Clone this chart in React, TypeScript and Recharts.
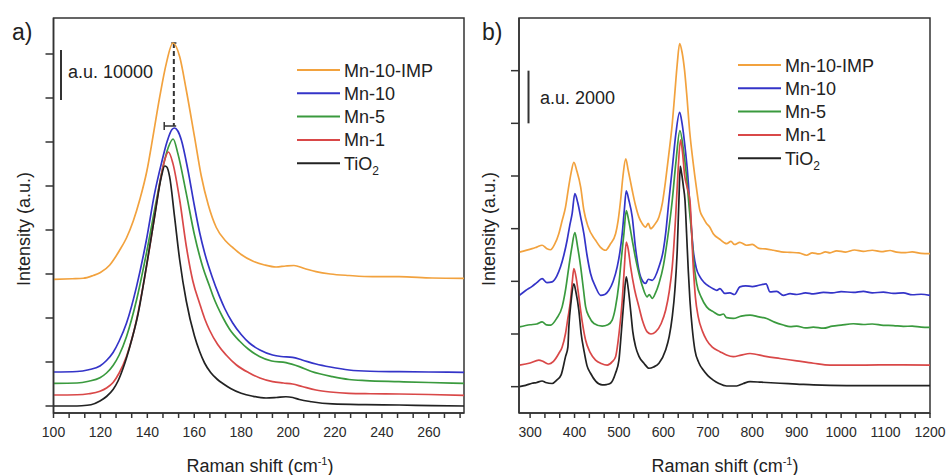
import React from 'react';
import { LineChart, Line, XAxis, YAxis, ReferenceLine, ReferenceArea } from 'recharts';

// ---- panel a) low-frequency Eg band, [Raman shift, intensity]
const aTiO2: [number, number][] = [
  [100, 0], [108, 0], [112, 50], [116, 250], [119.8, 1000], [122.6, 1900], [125.4, 3300], [127.5, 5000],
  [129.7, 7600], [132.8, 12300], [136, 18300], [139.6, 27870], [143.1, 37870], [146, 45870], [147.4, 48000],
  [148.3, 47800], [149.5, 45870], [151.6, 37870], [153.8, 29200], [156.6, 21000], [160.1, 14000], [162.3, 10900],
  [164.4, 8600], [167, 6700], [169.9, 5300], [172.5, 4400], [175.5, 3500], [180, 2550], [185, 1950], [190.6, 1600],
  [195, 1700], [199.1, 1850], [202, 1700], [204.8, 1300], [210, 850], [218.9, 420], [233.1, 270], [247.3, 200],
  [261.4, 70], [275, 0],
];
const aMn1: [number, number][] = [
  [100, 2200], [110, 2250], [115, 2450], [119.8, 2950], [122.6, 3600], [125.4, 4700], [128, 6600], [131.1, 9900],
  [135.4, 17200], [138.9, 25870], [142.4, 35870], [145.3, 44530], [147.4, 49200], [149, 50800], [150.9, 48530],
  [153.8, 41200], [156.6, 32000], [159.4, 25000], [162.3, 20500], [164.5, 17400], [166.5, 15200], [170, 12300],
  [173.6, 10200], [178, 8200], [183.5, 6600], [188, 5600], [193.4, 4870], [198, 4600], [201.9, 4400], [206, 3900],
  [211.9, 3200], [218, 2800], [226, 2530], [235, 2450], [247.3, 2400], [260, 2300], [275, 2130],
];
const aMn5: [number, number][] = [
  [100, 4530], [110, 4600], [115, 4950], [119.8, 5650], [122.6, 6600], [125.4, 8100], [128, 10200], [131.1, 13870],
  [135.4, 21200], [139.6, 30530], [143.9, 41200], [146.7, 47870], [149, 51800], [151, 53400], [153, 50530],
  [156.6, 42530], [160.1, 34200], [162.3, 30000], [163.7, 27700], [166.5, 24000], [168, 22000], [172.2, 17700],
  [175, 15400], [179.3, 13000], [183, 11400], [187.8, 9900], [193, 9000], [199.1, 8670], [204.8, 7870], [210, 6900],
  [218.9, 5870], [226, 5300], [233.1, 5070], [247.3, 4870], [260, 4700], [275, 4530],
];
const aMn10: [number, number][] = [
  [100, 6800], [110, 6900], [115, 7250], [119.8, 8000], [122.6, 9100], [125.4, 10700], [128, 13000], [131.1, 16530],
  [135.4, 23870], [139.6, 33200], [143.1, 42530], [146, 48530], [148.5, 53000], [150.5, 55300], [151.6, 55600],
  [153, 55000], [154.5, 53200], [157.3, 47200], [160, 40200], [162.3, 34700], [164.5, 30500], [167.5, 26000],
  [170.8, 21870], [173, 19500], [176.4, 16600], [180, 14300], [183.5, 12600], [188, 11200], [193.4, 10200],
  [197, 9900], [201.9, 9730], [206, 9200], [211.9, 8400], [218, 7800], [226, 7200], [235, 6950], [247.3, 6870],
  [260, 6800], [275, 6730],
];
const aImp: [number, number][] = [
  [100, 25330], [108, 25450], [112.7, 25550], [116.9, 26100], [120, 26700], [124, 28200], [126, 29500],
  [128, 31000], [131.1, 33600], [134, 37000], [136.8, 41300], [139.8, 47000], [142.4, 53870], [145.3, 61870],
  [148.1, 68530], [150.9, 72600], [153.8, 69870], [156.6, 63200], [160.1, 53870], [163, 46000], [166, 40200],
  [169.4, 35700], [173.6, 32900], [176.4, 31700], [180, 30300], [184.9, 29000], [190, 28200], [194.9, 27800],
  [199, 28000], [202.5, 28100], [207, 27500], [211.9, 26870], [218, 26400], [226, 26100], [235.9, 25870],
  [247.3, 25870], [261.4, 25600], [275, 25530],
];

// ---- panel b) full spectrum
const bTiO2: [number, number][] = [
  [276, 0], [290, 50], [304.5, 130], [313.5, 150], [327, 215], [335, 160], [349.6, 120], [360, 250], [369.8, 450],
  [379.7, 1140], [385, 1500], [387.2, 2270], [392, 3200], [398.5, 3900], [403, 3600], [409.7, 2900], [415, 2000],
  [421, 1390], [428, 800], [436, 510], [448, 200], [462.2, 65], [472, 80], [481, 130], [492, 500], [499.9, 1010],
  [505, 2000], [511.1, 3280], [516.4, 4170], [521, 3700], [526.2, 2900], [531, 2100], [537.4, 1520], [545, 1150],
  [556.2, 890], [567.5, 700], [578, 750], [590, 890], [605, 1390], [613, 1900], [619.9, 2650], [626, 3700],
  [631.1, 5180], [634.9, 7070], [637.9, 8370], [641, 8100], [645, 7600], [648.6, 7070], [652.2, 5810], [656, 4400],
  [659.7, 3280], [665, 2200], [670.9, 1390], [680, 900], [689.7, 630], [700, 420], [712.2, 250], [725, 120],
  [742.3, 25], [764.9, 25], [780, 120], [794.9, 190], [820, 170], [862.4, 130], [900, 100], [937.5, 65],
  [1012.7, 40], [1100, 40], [1200, 40],
];
const bMn1: [number, number][] = [
  [276, 820], [300, 900], [319.6, 1010], [330, 950], [342, 860], [352, 950], [364.6, 1260], [372, 1500],
  [379.7, 2020], [385, 2600], [391, 3280], [395, 4000], [398.5, 4480], [403, 4200], [409.7, 3410], [417, 2500],
  [424.8, 1770], [435, 1300], [447.3, 1010], [460, 880], [473.5, 820], [485, 950], [492.4, 1140], [500, 2000],
  [507.4, 3280], [512, 4500], [516.4, 5490], [521, 5200], [526.2, 4550], [535, 3700], [544.9, 3030], [553, 2500],
  [563.5, 2080], [572, 2000], [582.4, 2080], [595, 2400], [605, 2900], [613, 3600], [619.9, 4550], [627.5, 6440],
  [633, 8200], [638.5, 9370], [643, 8900], [648, 8000], [653, 7600], [659.7, 7070], [667.2, 4550], [672, 3400],
  [678.4, 2650], [688, 2100], [697.3, 1770], [710, 1500], [727.3, 1330], [742, 1200], [757.3, 1140], [775, 1200],
  [794.9, 1260], [830, 1150], [862.4, 1070], [900, 980], [937.5, 890], [975, 820], [1050, 820], [1120, 830],
  [1200, 820],
];
const bMn5: [number, number][] = [
  [276, 2270], [300, 2350], [315, 2380], [327, 2460], [337, 2350], [346, 2340], [360, 2600], [372.1, 3030],
  [380, 3700], [387.2, 4550], [394, 5300], [400.7, 5850], [407, 5300], [413.8, 4550], [420, 3700], [425, 3030],
  [433, 2650], [443.7, 2400], [462.2, 2300], [475, 2350], [484.7, 2530], [492, 3000], [499.9, 3920], [505, 4800],
  [511.1, 5810], [516.4, 6690], [522, 6300], [529.9, 5560], [537, 4900], [544.9, 4300], [553, 3800], [563.5, 3410],
  [568, 3500], [574.8, 3350], [582, 3550], [590, 3920], [600, 4600], [608.8, 5560], [619.9, 7070], [628, 8500],
  [637.2, 9720], [645, 9000], [652, 8000], [658, 6800], [663.6, 5810], [668, 4800], [674.8, 3920], [685, 3400],
  [697.3, 3030], [712, 2850], [727.3, 2720], [735, 2760], [742, 2620], [757.3, 2590], [775, 2680], [794.9, 2720],
  [815, 2650], [832.4, 2590], [850, 2450], [869.9, 2340], [885, 2280], [900, 2300], [920, 2230], [937.5, 2260],
  [960, 2220], [980, 2300], [1000, 2340], [1027.6, 2390], [1050, 2360], [1070, 2380], [1095, 2330], [1117.7, 2320],
  [1140, 2290], [1160, 2300], [1180, 2260], [1200, 2250],
];
const bMn10: [number, number][] = [
  [276, 3470], [290, 3650], [304.5, 3810], [315, 3950], [327, 4100], [338, 3950], [349.6, 3980], [360, 4200],
  [368.5, 4550], [376, 5000], [383.3, 5560], [389, 6100], [394.6, 6570], [400.7, 7330], [407, 7000], [413.8, 6440],
  [421, 5810], [428, 5000], [436, 4300], [447, 3800], [458.6, 3470], [468, 3500], [477.3, 3660], [487, 4000],
  [496, 4550], [502, 5100], [507.3, 5810], [512, 6700], [516.4, 7440], [522, 7100], [529.9, 6440], [537, 5300],
  [548.7, 4170], [560, 3920], [566, 4080], [574.8, 4040], [590, 4550], [600, 5200], [605, 5810], [612.4, 7070],
  [620, 8300], [628, 9600], [636.5, 10420], [642, 10000], [648, 9200], [655, 8000], [661, 6500], [667.2, 5180],
  [674, 4500], [682.3, 4170], [692, 3950], [704.8, 3790], [712, 3720], [720, 3660], [727.3, 3720], [738, 3540],
  [749.8, 3560], [760, 3500], [772, 3790], [785, 3830], [800, 3800], [815, 3850], [831, 3900], [840, 3600],
  [855, 3620], [869.9, 3470], [885, 3530], [900, 3500], [920, 3560], [937.5, 3520], [960, 3580], [980, 3560],
  [1000, 3610], [1027.6, 3580], [1050, 3620], [1070, 3560], [1095, 3590], [1117.7, 3540], [1140, 3560],
  [1160, 3490], [1180, 3510], [1200, 3470],
];
const bImp: [number, number][] = [
  [276, 5110], [304.5, 5240], [315, 5300], [327, 5370], [337, 5250], [346, 5200], [355, 5400], [364.6, 5810],
  [372, 6300], [379.7, 6820], [386, 7500], [392, 8100], [398.5, 8520], [405, 8200], [413.8, 7580], [421, 6700],
  [430, 6100], [447.3, 5560], [458, 5300], [469.8, 5180], [480, 5400], [492.4, 5810], [498, 6300], [503.6, 7070],
  [509, 8000], [515.2, 8650], [521, 8200], [529.9, 7450], [537, 6900], [544.9, 6440], [552, 6200], [560, 6060],
  [566, 6200], [571.2, 6000], [580, 6150], [590, 6440], [598, 7000], [605, 7830], [612, 8800], [619.9, 9980],
  [625, 11000], [631.1, 12250], [636.5, 13030], [642, 12700], [647.7, 12000], [653, 11000], [659, 9720],
  [667, 8500], [674.1, 7580], [682, 6700], [690, 6400], [697, 6200], [704.1, 6060], [712.2, 5810], [727, 5600],
  [742.3, 5430], [752, 5520], [760, 5400], [772, 5480], [787.3, 5370], [800, 5400], [815, 5250], [830, 5230],
  [847.4, 5180], [865, 5120], [885, 5100], [905, 5080], [922.4, 4990], [935, 5080], [950, 5040], [965, 5120],
  [975, 5080], [990, 5160], [1010, 5110], [1030, 5190], [1050, 5140], [1070, 5180], [1090, 5130], [1110, 5170],
  [1125, 5110], [1145, 5090], [1160, 5120], [1180, 5060], [1200, 5050],
];

const seriesNames = ['Mn-10-IMP', 'Mn-10', 'Mn-5', 'Mn-1', 'TiO2'];
const colors = ['#F2A23E', '#3434C8', '#3A9A3E', '#D94848', '#222222'];

// axis ticks (labelled majors + two minors between)
const aMajor = [100, 120, 140, 160, 180, 200, 220, 240, 260];
const bMajor = [300, 400, 500, 600, 700, 800, 900, 1000, 1100, 1200];
const aXTicks = aMajor.flatMap((v) => [v, v + 20 / 3, v + 40 / 3]).filter((v) => v <= 275);
const bXTicks = bMajor.flatMap((v) => [v, v + 100 / 3, v + 200 / 3]).filter((v) => v <= 1200);
const aYTicks = [0, 8800, 17600, 26400, 35200, 44000, 52800, 61600, 70400];
const bYTicks = [0, 2000, 4000, 6000, 8000, 10000, 12000];

const FONT = '"Liberation Sans", Arial, sans-serif';
const AXIS = '#333';

const pts = (arr: [number, number][]) => arr.map(([x, y]) => ({ x, y }));
const isMajor = (list: number[]) => (v: number) => (list.some((m) => Math.abs(m - v) < 0.01) ? String(v) : '');

function Panel({ series, xDomain, yDomain, xTicks, yTicks, major, width, margin, yWidth, children }: any) {
  return (
    <LineChart width={width} height={475} margin={margin}>
      <XAxis
        type="number"
        dataKey="x"
        domain={xDomain}
        ticks={xTicks}
        allowDataOverflow
        interval={0}
        height={62}
        stroke={AXIS}
        strokeWidth={1.5}
        tickSize={5}
        tickMargin={9}
        tickFormatter={isMajor(major)}
        tick={{ fill: '#2a2a2a', fontSize: 14, fontFamily: FONT }}
      />
      <YAxis
        type="number"
        domain={yDomain}
        ticks={yTicks}
        allowDataOverflow
        interval={0}
        width={yWidth}
        stroke={AXIS}
        strokeWidth={1.5}
        tickSize={8}
        tickFormatter={() => ''}
      />
      <ReferenceArea
        x1={xDomain[0]}
        x2={xDomain[1]}
        y1={yDomain[0]}
        y2={yDomain[1]}
        fill="none"
        stroke={AXIS}
        strokeWidth={1.5}
        fillOpacity={0}
      />
      {children}
      {series.map((s: [number, number][], i: number) => (
        <Line
          key={seriesNames[i]}
          data={pts(s)}
          dataKey="y"
          type="monotone"
          stroke={colors[i]}
          strokeWidth={1.7}
          dot={false}
          isAnimationActive={false}
        />
      ))}
    </LineChart>
  );
}

function Legend({ x, y, step }: { x: number; y: number; step: number }) {
  return (
    <g>
      {seriesNames.map((n, i) => (
        <g key={n}>
          <line x1={x} x2={x + 43} y1={y + i * step} y2={y + i * step} stroke={colors[i]} strokeWidth={2} />
          <text x={x + 47} y={y + i * step + 6.5} fontSize={18} fill="#222" fontFamily={FONT}>
            {n === 'TiO2' ? (
              <>
                TiO<tspan fontSize={12} dy={5}>2</tspan>
              </>
            ) : (
              n
            )}
          </text>
        </g>
      ))}
    </g>
  );
}

const AxisTitles = ({ cx, yx }: { cx: number; yx: number }) => (
  <g fontFamily={FONT} fill="#222">
    <text x={cx} y={472} fontSize={18} textAnchor="middle">
      Raman shift (cm<tspan fontSize={11} dy={-7}>-1</tspan>
      <tspan dy={7}>)</tspan>
    </text>
    <text x={yx} y={229} fontSize={18} textAnchor="middle" transform={`rotate(-90 ${yx} 229)`} dy={6}>
      Intensity (a.u.)
    </text>
  </g>
);

export default function App() {
  return (
    <div style={{ position: 'fixed', left: 0, top: 0, width: 946, height: 475, background: '#fff' }}>
      <div style={{ position: 'absolute', left: 0, top: 0 }}>
        <Panel
          series={[aImp, aMn10, aMn5, aMn1, aTiO2]}
          xDomain={[100, 275]}
          yDomain={[-1400, 77600]}
          xTicks={aXTicks}
          yTicks={aYTicks}
          major={aMajor}
          width={473}
          yWidth={53.5}
          margin={{ top: 18, right: 9, bottom: 0, left: 0 }}
        >
          <ReferenceLine segment={[{ x: 103.2, y: 61200 }, { x: 103.2, y: 71200 }]} stroke={AXIS} strokeWidth={2} />
          <ReferenceLine segment={[{ x: 151.3, y: 72600 }, { x: 151.3, y: 56000 }]} stroke={AXIS} strokeWidth={2} strokeDasharray="5 3" />
          <ReferenceLine segment={[{ x: 150.2, y: 72600 }, { x: 152.4, y: 72600 }]} stroke={AXIS} strokeWidth={1.5} />
          <ReferenceLine segment={[{ x: 147.2, y: 56000 }, { x: 152.3, y: 56000 }]} stroke={AXIS} strokeWidth={1.5} />
          <ReferenceLine segment={[{ x: 147.2, y: 55200 }, { x: 147.2, y: 56800 }]} stroke={AXIS} strokeWidth={1.5} />
        </Panel>
      </div>
      <div style={{ position: 'absolute', left: 473, top: 0 }}>
        <Panel
          series={[bImp, bMn10, bMn5, bMn1, bTiO2]}
          xDomain={[275, 1200]}
          yDomain={[-1000, 14000]}
          xTicks={bXTicks}
          yTicks={bYTicks}
          major={bMajor}
          width={473}
          yWidth={46}
          margin={{ top: 18, right: 16, bottom: 0, left: 0 }}
        >
          <ReferenceLine segment={[{ x: 296.4, y: 10000 }, { x: 296.4, y: 12000 }]} stroke={AXIS} strokeWidth={2} />
        </Panel>
      </div>
      <svg width={946} height={475} style={{ position: 'absolute', left: 0, top: 0, pointerEvents: 'none' }}>
        <g fontFamily={FONT} fill="#222">
          <text x={12} y={40} fontSize={23}>a)</text>
          <text x={482} y={40} fontSize={23}>b)</text>
          <text x={68} y={78} fontSize={18}>a.u. 10000</text>
          <text x={540} y={104} fontSize={18}>a.u. 2000</text>
        </g>
        <Legend x={297} y={70} step={23.3} />
        <Legend x={738} y={65} step={23.3} />
        <AxisTitles cx={260} yx={24} />
        <AxisTitles cx={725} yx={489} />
      </svg>
    </div>
  );
}
